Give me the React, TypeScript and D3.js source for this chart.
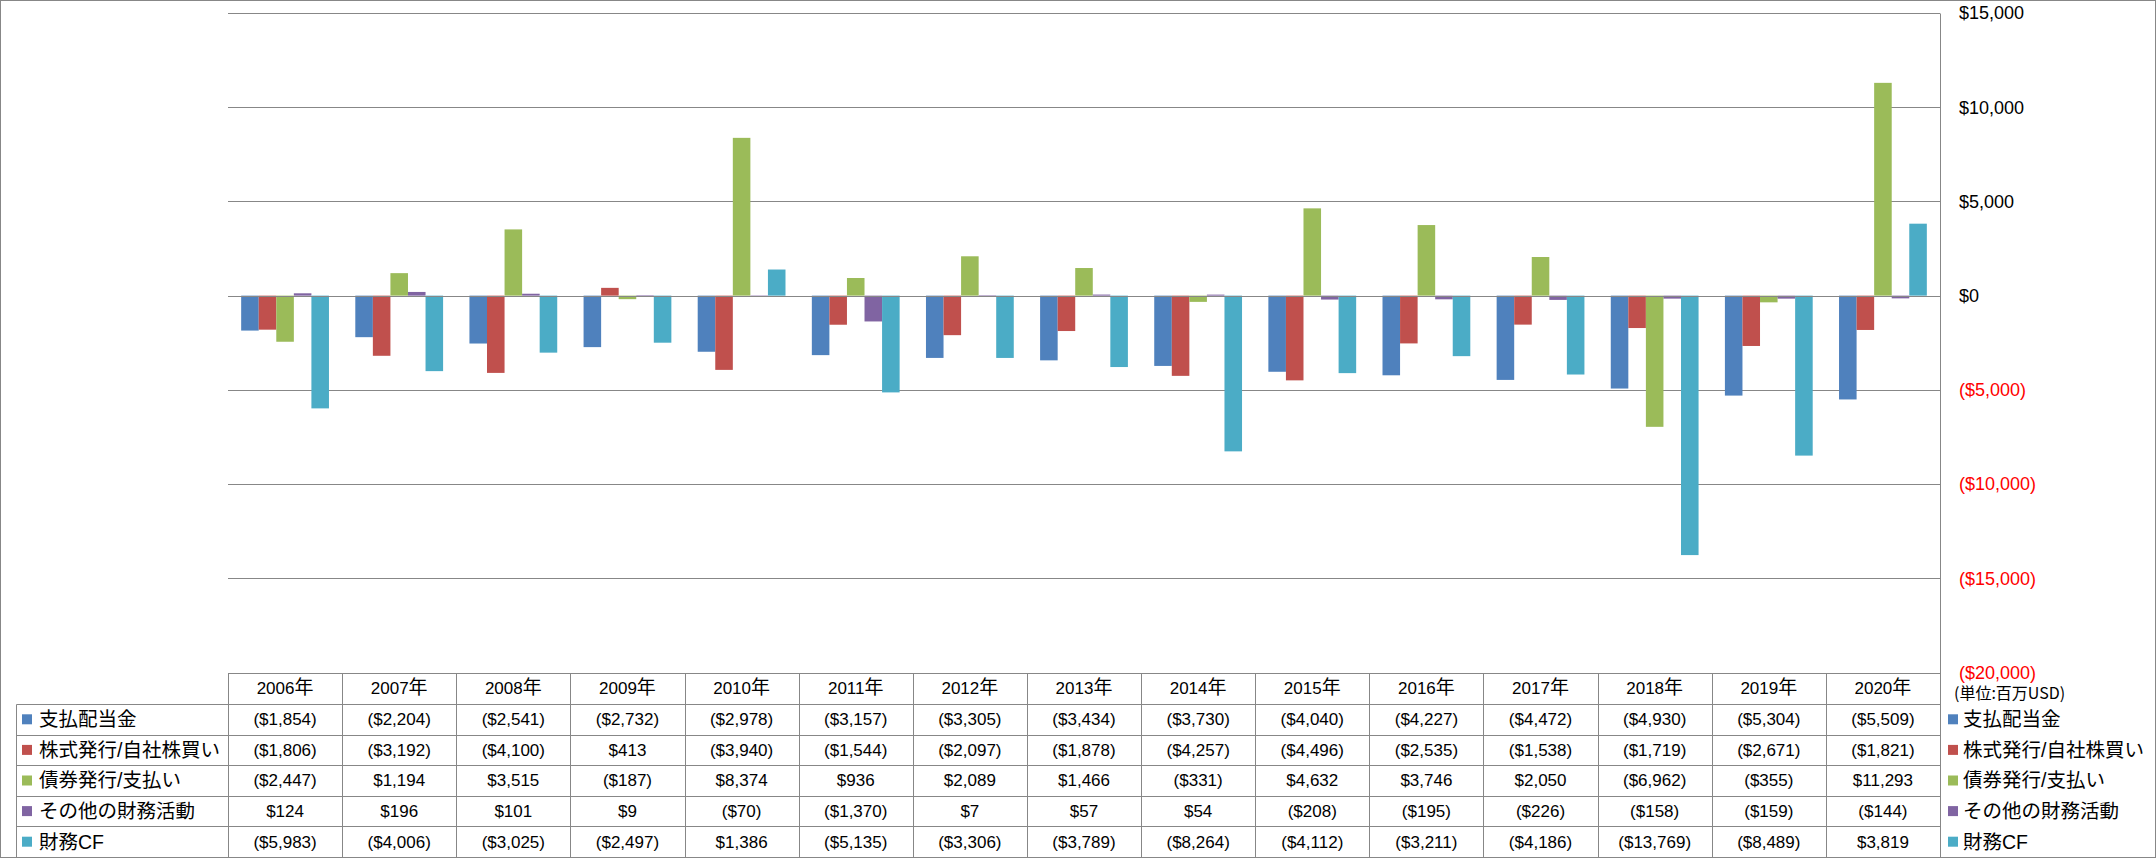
import React from "react";
import * as d3 from "d3";

const years = ["2006年", "2007年", "2008年", "2009年", "2010年", "2011年", "2012年", "2013年", "2014年", "2015年", "2016年", "2017年", "2018年", "2019年", "2020年"];
const seriesNames = ["支払配当金", "株式発行/自社株買い", "債券発行/支払い", "その他の財務活動", "財務CF"];
const dividends = [-1854, -2204, -2541, -2732, -2978, -3157, -3305, -3434, -3730, -4040, -4227, -4472, -4930, -5304, -5509];
const equity = [-1806, -3192, -4100, 413, -3940, -1544, -2097, -1878, -4257, -4496, -2535, -1538, -1719, -2671, -1821];
const debt = [-2447, 1194, 3515, -187, 8374, 936, 2089, 1466, -331, 4632, 3746, 2050, -6962, -355, 11293];
const other = [124, 196, 101, 9, -70, -1370, 7, 57, 54, -208, -195, -226, -158, -159, -144];
const financingCF = [-5983, -4006, -3025, -2497, 1386, -5135, -3306, -3789, -8264, -4112, -3211, -4186, -13769, -8489, 3819];
const colors = ["#4F81BD", "#C0504D", "#9BBB59", "#8064A2", "#4BACC6"];
const yTicks = [15000, 10000, 5000, 0, -5000, -10000, -15000, -20000];
const unitLabel = "(単位:百万USD)";

const series = [dividends, equity, debt, other, financingCF];
const num = d3.format(",");
const fmt = (v: number) => (v < 0 ? `($${num(-v)})` : `$${num(v)}`);

const FONT = "'Liberation Sans', 'Noto Sans CJK JP', sans-serif";
const GRID = "#878787";

export default function App() {
  const W = 2156, H = 858;
  const plotL = 228, plotR = 1940, plotT = 13, plotB = 672.5;
  const tableTop = plotB, headerB = 704, tableB = 857;
  const rowH = (tableB - headerB) / 5;
  const labelL = 16;

  const x = d3.scaleBand<string>().domain(years).range([plotL, plotR]).paddingInner(0).paddingOuter(0);
  const y = d3.scaleLinear().domain([-20000, 15000]).range([plotB, plotT]);
  const sub = d3.scaleBand<number>().domain(d3.range(5)).range([0, x.bandwidth()]).paddingInner(0).paddingOuter(0.75);
  const ry = (v: number) => Math.round(y(v)) + 0.5;
  const colEdges = years.map((yr) => Math.round(x(yr)!) + 0.5).concat([Math.round(plotR) + 0.5]);

  return (
    <div style={{ position: "absolute", left: 0, top: 0 }}>
      <svg width={W} height={H} style={{ display: "block", fontFamily: FONT }}>
        <rect x={0} y={0} width={W} height={H} fill="#fff" />
        {/* gridlines */}
        {yTicks.map((t) => (
          <line key={t} x1={plotL} x2={plotR} y1={ry(t)} y2={ry(t)} stroke={GRID} strokeWidth={1} />
        ))}
        {/* bars */}
        {series.map((vals, si) =>
          vals.map((v, i) => {
            const x0 = x(years[i])! + sub(si)!;
            const y0 = y(Math.max(v, 0));
            const y1 = y(Math.min(v, 0));
            return <rect key={`${si}-${i}`} x={x0} y={y0} width={sub.bandwidth()} height={Math.max(0.8, y1 - y0)} fill={colors[si]} />;
          })
        )}
        <line x1={plotL} x2={plotR} y1={ry(0)} y2={ry(0)} stroke={GRID} strokeWidth={1} />
        {/* right axis line */}
        <line x1={Math.round(plotR) + 0.5} x2={Math.round(plotR) + 0.5} y1={ry(15000)} y2={tableB} stroke={GRID} />
        {/* axis labels */}
        {yTicks.map((t) => (
          <text key={t} x={1959} y={y(t)} dy="0.35em" fontSize={18} fill={t < 0 ? "#FF0000" : "#000"}>
            {fmt(t)}
          </text>
        ))}
        <text x={1954} y={693} dy="0.35em" fontSize={16} fontFamily="'Noto Sans CJK JP', sans-serif" fill="#000">
          {unitLabel}
        </text>
        {/* table grid */}
        <line x1={plotL} x2={plotR} y1={Math.round(headerB) + 0.5} y2={Math.round(headerB) + 0.5} stroke={GRID} />
        {d3.range(6).map((r) => {
          const yy = Math.round(headerB + r * rowH) + 0.5;
          return <line key={r} x1={labelL + 0.5} x2={plotR} y1={yy} y2={yy} stroke={GRID} />;
        })}
        {colEdges.map((cx, i) => (
          <line key={i} x1={cx} x2={cx} y1={Math.round(tableTop) + 0.5} y2={tableB} stroke={GRID} />
        ))}
        <line x1={labelL + 0.5} x2={labelL + 0.5} y1={Math.round(headerB) + 0.5} y2={tableB} stroke={GRID} />
        {/* header */}
        {years.map((yr) => (
          <text key={yr} x={x(yr)! + x.bandwidth() / 2} y={(tableTop + headerB) / 2} dy="0.35em" textAnchor="middle" fontSize={17}>
            {yr.replace("年", "")}
            <tspan fontSize={19}>年</tspan>
          </text>
        ))}
        {/* rows */}
        {series.map((vals, si) => {
          const cy = headerB + (si + 0.5) * rowH;
          return (
            <g key={si}>
              <rect x={22} y={cy - 5} width={10} height={10} fill={colors[si]} />
              <text x={39} y={cy} dy="0.35em" fontSize={19.5}>
                {seriesNames[si]}
              </text>
              {vals.map((v, i) => (
                <text key={i} x={x(years[i])! + x.bandwidth() / 2} y={cy} dy="0.35em" textAnchor="middle" fontSize={17}>
                  {fmt(v)}
                </text>
              ))}
              <rect x={1948} y={cy - 5} width={10} height={10} fill={colors[si]} />
              <text x={1963} y={cy} dy="0.35em" fontSize={19.5}>
                {seriesNames[si]}
              </text>
            </g>
          );
        })}
        {/* outer border */}
        <rect x={0.5} y={0.5} width={W - 1} height={H - 1} fill="none" stroke={GRID} strokeWidth={1} />
      </svg>
    </div>
  );
}
